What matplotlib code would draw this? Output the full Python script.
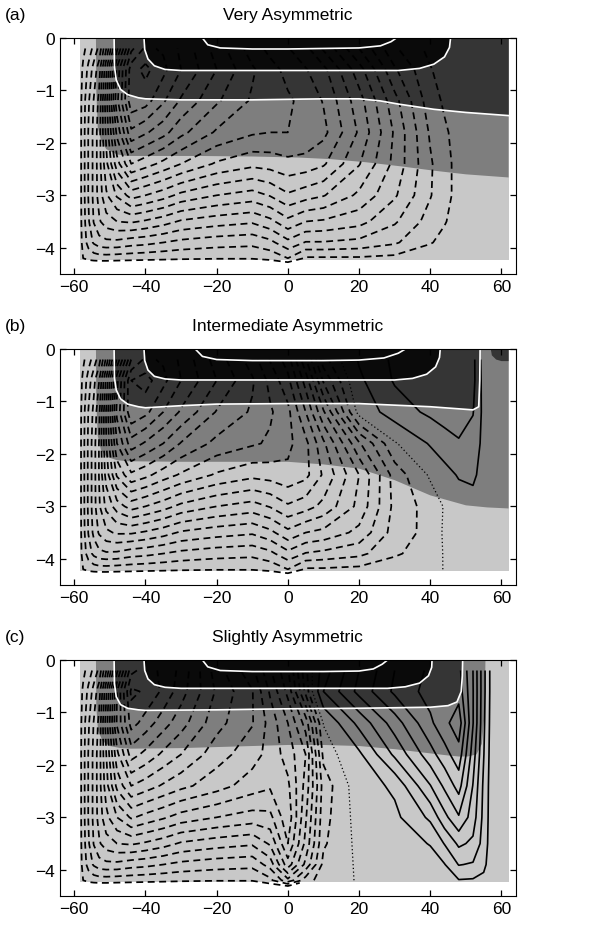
import numpy as np
import matplotlib
matplotlib.use('Agg')
import matplotlib.pyplot as plt

plt.rcParams['font.family'] = ['Liberation Sans', 'DejaVu Sans']

nan = np.nan

# grid of the streamfunction tables (latitude, depth in km)
lat_nodes = [-59, -57.5, -56, -54.5, -53, -51, -48, -44, -40, -35, -30, -20, -10,
             -5, 0, 5, 10, 20, 30, 40, 44, 48, 52, 55, 57.5, 62]
depth_nodes = [-0.2, -0.6, -1.2, -1.8, -2.4, -3.0, -3.5, -3.9, -4.2, -4.35]

# streamfunction profiles, one list per latitude node
psi_a = [
    [0, 0, 0, 0, 0, 0, 0, 0, 0, 0],                                   # -59
    [-0.5, -0.85, -1.05, -1.1, -1.1, -1.1, -1.05, -0.95, -0.7, 0],      # -57.5
    [-1.0, -1.6, -2.0, -2.15, -2.15, -2.15, -2.0, -1.7, -0.9, 0],       # -56
    [-1.6, -2.4, -2.85, -3.0, -3.0, -3.0, -2.85, -2.2, -1.0, 0],        # -54.5
    [-2.3, -3.2, -3.7, -3.9, -3.9, -3.8, -3.4, -2.5, -1.05, 0],         # -53
    [-4.2, -5.5, -6.05, -5.8, -5.4, -4.8, -3.9, -2.6, -1.05, 0],        # -51
    [-7.5, -9.3, -9.6, -8.6, -7.4, -5.7, -4.2, -2.6, -1.0, 0],          # -48
    [-11.0, -12.3, -12.4, -11.05, -9.1, -6.6, -4.3, -2.4, -0.95, 0],    # -44
    [-12.05, -12.8, -12.2, -10.6, -8.7, -6.3, -4.1, -2.3, -0.9, 0],     # -40
    [-11.8, -12.1, -11.3, -10.05, -8.2, -5.9, -3.8, -2.1, -0.85, 0],    # -35
    [-11.05, -11.2, -10.4, -9.3, -7.7, -5.4, -3.4, -1.9, -0.8, 0],      # -30
    [-9.5, -9.8, -9.2, -8.3, -6.9, -4.9, -3.1, -1.7, -0.75, 0],         # -20
    [-8.05, -8.5, -8.3, -7.8, -6.5, -4.6, -2.9, -1.6, -0.75, 0],        # -10
    [-7.5, -7.95, -7.95, -7.7, -6.6, -4.95, -3.3, -1.9, -0.9, 0],       # -5
    [-7.05, -7.5, -7.8, -7.7, -6.8, -5.5, -4.0, -2.6, -1.4, 0],         # 0
    [-6.5, -7.05, -7.5, -7.6, -6.7, -5.2, -3.5, -2.05, -0.6, nan],      # 5
    [-5.5, -6.5, -6.95, -7.2, -6.4, -4.95, -3.4, -2.05, -0.6, nan],     # 10
    [-3.5, -4.5, -5.2, -5.5, -4.95, -4.05, -3.05, -1.9, -0.6, nan],     # 20
    [-1.5, -2.2, -3.05, -3.4, -3.3, -2.9, -2.2, -1.5, -0.5, nan],       # 30
    [-0.5, -0.75, -1.0, -1.3, -1.5, -1.45, -1.1, -0.75, -0.25, nan],    # 40
    [-0.3, -0.4, -0.6, -0.8, -0.9, -0.9, -0.75, -0.5, -0.15, nan],      # 44
    [-0.2, -0.25, -0.35, -0.45, -0.5, -0.5, -0.4, -0.3, -0.1, nan],     # 48
    [-0.1, -0.15, -0.2, -0.25, -0.3, -0.3, -0.25, -0.2, -0.05, nan],    # 52
    [-0.05, -0.1, -0.1, -0.15, -0.15, -0.15, -0.1, -0.1, 0, nan],       # 55
    [0, -0.05, -0.05, -0.05, -0.05, -0.05, -0.05, -0.05, 0, nan],       # 57.5
    [0, 0, 0, 0, 0, 0, 0, 0, 0, nan],                                   # 62
]

psi_b = [
    [0, 0, 0, 0, 0, 0, 0, 0, 0, 0],                                   # -59
    [-0.55, -0.9, -1.1, -1.15, -1.15, -1.15, -1.1, -1.0, -0.7, 0],      # -57.5
    [-1.1, -1.75, -2.15, -2.25, -2.25, -2.25, -2.15, -1.75, -0.9, 0],   # -56
    [-1.7, -2.6, -3.0, -3.2, -3.2, -3.2, -3.0, -2.3, -1.0, 0],          # -54.5
    [-2.5, -3.5, -4.05, -4.25, -4.25, -4.1, -3.6, -2.6, -1.05, 0],      # -53
    [-4.4, -5.8, -6.4, -6.3, -5.9, -5.1, -4.05, -2.7, -1.05, 0],        # -51
    [-7.8, -9.6, -10.0, -9.1, -7.8, -5.95, -4.3, -2.65, -1.0, 0],       # -48
    [-11.2, -12.6, -12.5, -10.9, -8.95, -6.6, -4.3, -2.4, -0.95, 0],    # -44
    [-12.05, -12.9, -12.1, -10.4, -8.6, -6.3, -4.1, -2.3, -0.9, 0],     # -40
    [-11.8, -12.1, -11.2, -9.8, -8.05, -5.9, -3.8, -2.1, -0.85, 0],     # -35
    [-11.05, -11.2, -10.4, -9.05, -7.6, -5.4, -3.4, -1.9, -0.8, 0],     # -30
    [-9.5, -9.8, -9.05, -8.2, -6.9, -4.9, -3.1, -1.7, -0.75, 0],        # -20
    [-8.05, -8.5, -8.3, -7.8, -6.5, -4.6, -2.9, -1.6, -0.75, 0],        # -10
    [-6.95, -7.5, -7.8, -7.6, -6.6, -4.95, -3.3, -1.9, -0.9, 0],        # -5
    [-5.95, -6.5, -7.2, -7.2, -6.8, -5.5, -4.0, -2.6, -1.4, 0],         # 0
    [-3.6, -4.6, -5.6, -6.5, -6.5, -5.2, -3.5, -2.05, -0.6, nan],       # 5
    [-1.0, -2.0, -3.6, -5.05, -5.5, -4.7, -3.3, -1.9, -0.6, nan],       # 10
    [1.1, 0.8, 0.3, -2.2, -3.5, -3.3, -2.6, -1.6, -0.5, nan],           # 20
    [2.2, 2.1, 1.5, -0.1, -1.1, -1.2, -1.1, -0.8, -0.3, nan],           # 30
    [2.6, 2.6, 2.2, 1.1, 0.1, -0.4, -0.45, -0.35, -0.15, nan],          # 40
    [2.6, 2.7, 2.4, 1.6, 0.6, 0.05, 0.1, 0.05, 0.02, nan],              # 44
    [2.7, 2.8, 2.5, 1.9, 1.1, 0.4, 0.2, 0.15, 0.1, nan],                # 48
    [2.3, 2.3, 2.05, 1.6, 1.2, 0.6, 0.3, 0.2, 0.1, nan],                # 52
    [0.5, 0.6, 0.7, 0.7, 0.6, 0.4, 0.25, 0.2, 0.1, nan],                # 55
    [0.2, 0.2, 0.2, 0.2, 0.2, 0.2, 0.15, 0.1, 0.05, nan],               # 57.5
    [0, 0, 0, 0, 0, 0, 0, 0, 0, nan],                                   # 62
]

psi_c = [
    [0, 0, 0, 0, 0, 0, 0, 0, 0, 0],                                   # -59
    [-0.5, -0.85, -1.05, -1.1, -1.1, -1.1, -1.05, -0.95, -0.7, 0],      # -57.5
    [-1.0, -1.6, -2.0, -2.15, -2.15, -2.15, -2.0, -1.7, -0.9, 0],       # -56
    [-1.6, -2.4, -2.85, -3.0, -3.0, -3.0, -2.85, -2.2, -1.0, 0],        # -54.5
    [-2.3, -3.2, -3.7, -3.9, -3.9, -3.8, -3.4, -2.5, -1.05, 0],         # -53
    [-4.2, -5.5, -5.95, -5.6, -5.3, -4.7, -3.9, -2.6, -1.05, 0],        # -51
    [-7.5, -9.1, -9.2, -8.2, -7.2, -5.6, -4.2, -2.6, -1.0, 0],          # -48
    [-11.0, -12.05, -11.5, -10.1, -8.4, -6.4, -4.3, -2.4, -0.95, 0],    # -44
    [-11.5, -11.8, -10.9, -9.6, -8.05, -6.05, -4.1, -2.3, -0.9, 0],     # -40
    [-11.05, -11.05, -10.1, -8.95, -7.6, -5.7, -3.8, -2.1, -0.85, 0],   # -35
    [-10.3, -10.1, -9.4, -8.4, -7.2, -5.3, -3.4, -1.9, -0.8, 0],        # -30
    [-8.05, -8.3, -7.95, -7.3, -6.6, -4.9, -3.1, -1.7, -0.75, 0],       # -20
    [-6.5, -7.05, -7.05, -6.6, -5.95, -4.6, -2.9, -1.6, -0.75, 0],      # -10
    [-5.0, -5.5, -6.05, -6.05, -5.7, -4.7, -3.6, -2.4, -1.2, 0],        # -5
    [-3.6, -4.0, -4.9, -5.3, -5.75, -6.1, -5.6, -4.6, -2.6, 0],         # 0
    [-0.9, -1.2, -3.2, -4.2, -3.95, -3.6, -3.3, -2.6, -1.05, nan],      # 5
    [1.5, 2.0, 0.05, -0.5, -1.1, -0.95, -0.8, -0.5, -0.3, nan],         # 10
    [4.0, 4.3, 2.3, 0.8, 0.45, 0.3, 0.2, 0.1, 0.05, nan],               # 20
    [6.0, 6.2, 4.5, 3.2, 1.2, 0.75, 0.5, 0.3, 0.2, nan],                # 30
    [7.2, 7.4, 6.8, 5.6, 3.95, 2.2, 1.05, 0.6, 0.4, nan],               # 40
    [7.5, 7.7, 7.7, 6.6, 5.2, 3.7, 2.05, 0.95, 0.6, nan],               # 44
    [7.3, 7.6, 8.6, 7.6, 6.4, 4.9, 3.2, 2.05, 0.95, nan],               # 48
    [5.0, 5.05, 5.05, 4.5, 3.95, 3.5, 2.8, 1.9, 0.9, nan],              # 52
    [2.3, 2.3, 2.2, 2.05, 1.8, 1.7, 1.6, 1.3, 0.7, nan],                # 55
    [0.4, 0.4, 0.35, 0.3, 0.3, 0.3, 0.25, 0.2, 0.1, nan],               # 57.5
    [0, 0, 0, 0, 0, 0, 0, 0, 0, nan],                                   # 62
]

# water-mass interfaces (latitude, depth) read from the shading
mid_lat_a = [-53.9, -53.8, -53.4, -52.5, -51, -48, -45, -35, -25, -10, 3, 12, 22, 32, 41, 50, 62]
mid_depth_a = [0, -1.0, -1.7, -1.95, -2.12, -2.22, -2.25, -2.25, -2.25, -2.26, -2.28, -2.31, -2.37, -2.45, -2.53, -2.6, -2.66]
dark_lat_a = [-48.8, -48.7, -48.2, -47, -45, -42, -40, -30, -20, -10, 0, 10, 20, 26, 31, 36, 41, 50, 62]
dark_depth_a = [0, -0.55, -0.8, -0.98, -1.08, -1.14, -1.16, -1.18, -1.18, -1.18, -1.17, -1.16, -1.16, -1.2, -1.26, -1.31, -1.36, -1.42, -1.48]
core_lat_a = [-40.4, -40.2, -39.3, -37.5, -34.5, -30, 0, 31, 37, 41, 44, 45.4, 45.7]
core_depth_a = [0, -0.22, -0.4, -0.53, -0.6, -0.62, -0.62, -0.62, -0.58, -0.5, -0.36, -0.18, 0]
inner_lat_a = [-24, -22.5, -19, -10, 0, 10, 20, 26, 29, 30.5]
inner_depth_a = [0, -0.13, -0.19, -0.21, -0.21, -0.2, -0.19, -0.15, -0.07, 0]

mid_lat_b = [-53.9, -53.8, -53.4, -52.5, -51, -48, -45, -30, -15, 0, 10, 20, 30, 40, 50, 56, 62]
mid_depth_b = [0, -1.0, -1.65, -1.92, -2.05, -2.12, -2.14, -2.15, -2.15, -2.15, -2.2, -2.28, -2.5, -2.79, -2.98, -3.02, -3.04]
dark_lat_b = [-48.8, -48.7, -48.2, -47, -45, -42, -40, -30, -20, 0, 20, 30, 40, 48, 52, 53.6, 53.9, 54]
dark_depth_b = [0, -0.55, -0.78, -0.95, -1.05, -1.1, -1.12, -1.08, -1.05, -1.04, -1.04, -1.07, -1.1, -1.14, -1.16, -1.1, -0.6, 0]
core_lat_b = [-40.4, -40.2, -39.3, -37.5, -34.5, -30, 0, 30, 35, 39, 41.5, 42.6, 42.8]
core_depth_b = [0, -0.22, -0.4, -0.52, -0.57, -0.59, -0.59, -0.59, -0.56, -0.48, -0.34, -0.16, 0]
inner_lat_b = [-26, -24, -20, -10, 0, 10, 20, 27, 31, 33]
inner_depth_b = [0, -0.14, -0.2, -0.22, -0.22, -0.22, -0.21, -0.17, -0.08, 0]
corner_lat_b = [57, 57.3, 58.5, 60, 62, 62]
corner_depth_b = [0, -0.12, -0.2, -0.23, -0.23, 0]

mid_lat_c = [-53.9, -53.8, -53.3, -52, -50, -47, -44, -30, -10, 0, 10, 20, 30, 40, 45, 48, 50.5, 53, 54.5, 55.3, 55.5]
mid_depth_c = [0, -0.9, -1.35, -1.55, -1.64, -1.68, -1.69, -1.68, -1.64, -1.62, -1.62, -1.64, -1.7, -1.78, -1.82, -1.84, -1.84, -1.8, -1.6, -1.0, 0]
dark_lat_c = [-48.8, -48.7, -48.2, -47, -45, -42, -40, -20, 0, 20, 40, 45, 47.5, 48.7, 49, 49.1]
dark_depth_c = [0, -0.45, -0.7, -0.85, -0.92, -0.95, -0.96, -0.95, -0.93, -0.92, -0.9, -0.87, -0.8, -0.6, -0.3, 0]
core_lat_c = [-40.4, -40.2, -39.3, -37.5, -34.5, -30, 0, 28, 33, 37, 39.5, 40.4, 40.5]
core_depth_c = [0, -0.2, -0.36, -0.47, -0.52, -0.54, -0.54, -0.54, -0.51, -0.44, -0.3, -0.14, 0]
inner_lat_c = [-24, -22.5, -19, -10, 0, 10, 20, 24, 26.5, 28]
inner_depth_c = [0, -0.13, -0.2, -0.22, -0.22, -0.22, -0.21, -0.17, -0.08, 0]

titles = ['Very Asymmetric', 'Intermediate Asymmetric', 'Slightly Asymmetric']
panel_tags = ['(a)', '(b)', '(c)']

LIGHT = '#c8c8c8'
MID = '#7e7e7e'
DARK = '#353535'
CORE = '#0a0a0a'


def close_to_surface(lat, depth):
    # polygon from the surface down along an interface and back along the surface
    return list(lat) + [lat[-1]], list(depth) + [0]


def draw_panel(ax, psi, mid, dark, core, inner, corner=None, zero_cols=None):
    ax.fill([-58.3, 62, 62, -58.3], [0, 0, -4.24, -4.24], color=LIGHT, lw=0)
    mx, mz = close_to_surface(*mid)
    ax.fill(mx, mz, color=MID, lw=0)
    dx, dz = close_to_surface(*dark)
    ax.fill(dx, dz, color=DARK, lw=0)
    if corner is not None:
        ax.fill(corner[0], corner[1], color=DARK, lw=0)

    lon, dep = np.meshgrid(lat_nodes, depth_nodes)
    field = np.ma.masked_invalid(np.array(psi, dtype=float).T)
    ax.contour(lon, dep, field, levels=np.arange(-14.0, -0.3, 0.7), colors='k',
               linewidths=1.25, linestyles=[(0, (4.0, 2.6))])
    if field.max() > 1:
        ax.contour(lon, dep, field, levels=np.arange(1, 10, 1), colors='k',
                   linewidths=1.2, linestyles='solid')
    if zero_cols is not None:
        lo, hi = zero_cols
        ax.contour(lon[:, lo:hi], dep[:, lo:hi], field[:, lo:hi], levels=[0],
                   colors='k', linewidths=0.9, linestyles=[(0, (1, 2))])

    # the upper water masses partly hide the streamlines
    ax.fill(dx, dz, color=DARK, lw=0, alpha=0.6)
    ax.fill(core[0], core[1], color=CORE, lw=0)
    ax.plot(core[0], core[1], color='white', lw=1.2)
    ax.plot(inner[0], inner[1], color='white', lw=1.2)
    ax.plot(dark[0], dark[1], color='white', lw=1.2)

    ax.set_xlim(-64, 64)
    ax.set_ylim(-4.5, 0)
    ax.set_xticks([-60, -40, -20, 0, 20, 40, 60])
    ax.set_yticks([0, -1, -2, -3, -4])
    ax.tick_params(direction='in', top=True, right=True, length=4,
                   labelsize=12.5, width=0.9)


def main():
    fig = plt.figure(figsize=(6.06, 9.28), dpi=100)
    bottoms = [0.7037, 0.3685, 0.0334]
    specs = [
        (psi_a, (mid_lat_a, mid_depth_a), (dark_lat_a, dark_depth_a),
         (core_lat_a, core_depth_a), (inner_lat_a, inner_depth_a), None, None),
        (psi_b, (mid_lat_b, mid_depth_b), (dark_lat_b, dark_depth_b),
         (core_lat_b, core_depth_b), (inner_lat_b, inner_depth_b),
         (corner_lat_b, corner_depth_b), (14, 22)),
        (psi_c, (mid_lat_c, mid_depth_c), (dark_lat_c, dark_depth_c),
         (core_lat_c, core_depth_c), (inner_lat_c, inner_depth_c), None, (15, 22)),
    ]
    for i, spec in enumerate(specs):
        ax = fig.add_axes([0.099, bottoms[i], 0.752, 0.2543])
        draw_panel(ax, *spec)
        ax.text(0.5, 1.10, titles[i], transform=ax.transAxes, ha='center',
                va='center', fontsize=12.5)
        ax.text(-0.122, 1.10, panel_tags[i], transform=ax.transAxes, ha='left',
                va='center', fontsize=12.5)
    fig.savefig('out.png', dpi=100)


if __name__ == "__main__":
    main()
